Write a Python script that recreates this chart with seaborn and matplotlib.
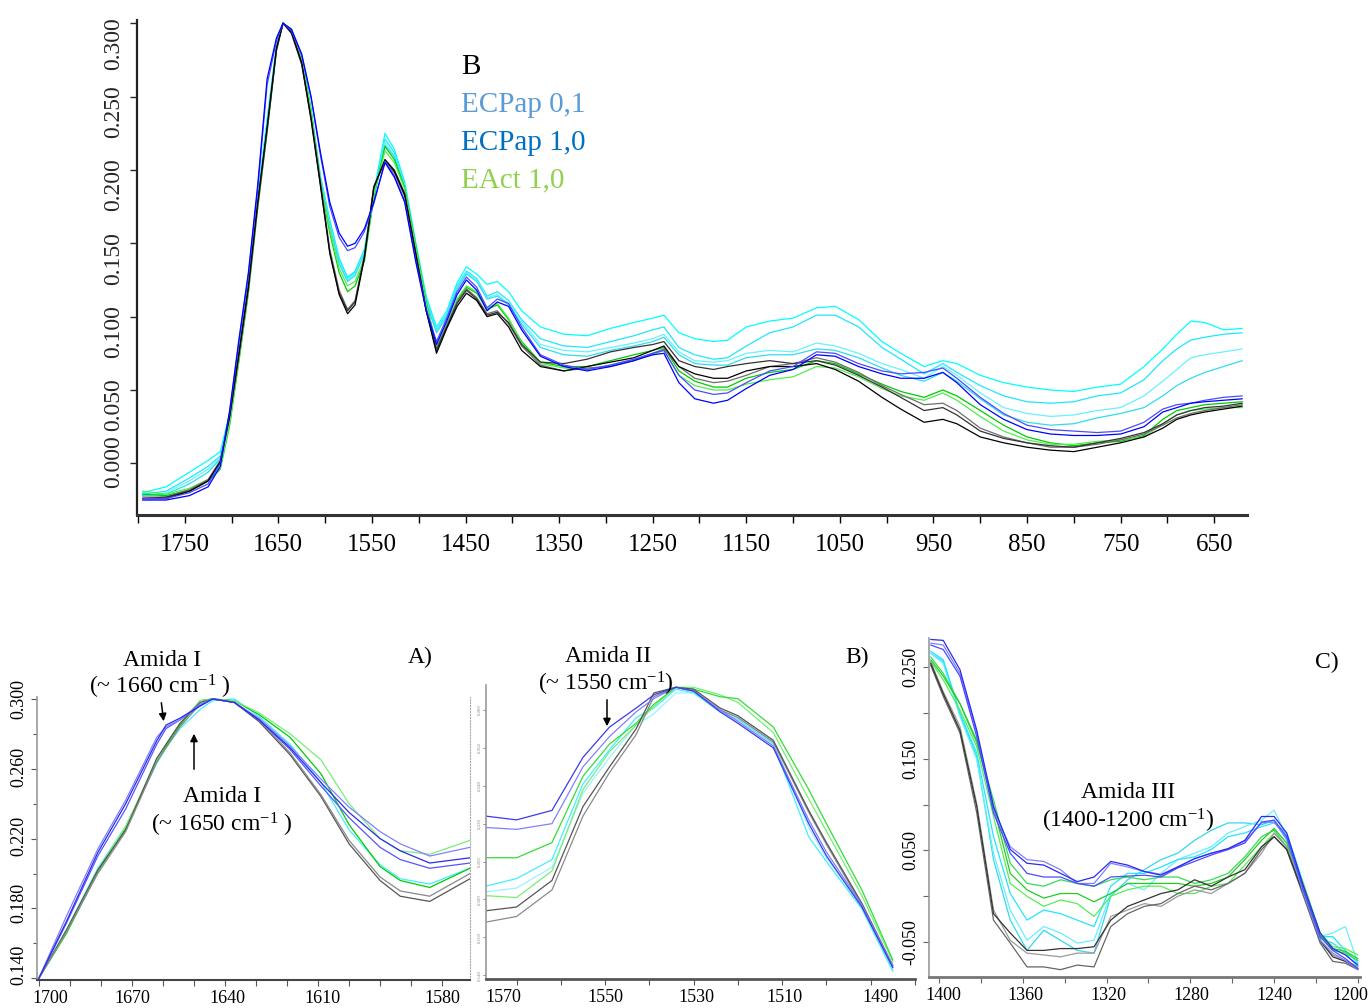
import matplotlib
matplotlib.use("Agg")
import matplotlib.pyplot as plt
import pandas as pd
import seaborn as sns
from matplotlib.ticker import MultipleLocator
from matplotlib.patches import FancyArrowPatch
from matplotlib.transforms import ScaledTranslation

sns.set_style("ticks")
plt.rcParams['font.family'] = ['Liberation Serif', 'DejaVu Serif']
plt.rcParams['mathtext.default'] = 'regular'

# ---------------- data: main spectrum (panel B top) ----------------
wn_top = [1795, 1770, 1745, 1725, 1712, 1702, 1692, 1682, 1672, 1662, 1652, 1645, 1636, 1625, 1615,
          1605, 1595, 1585, 1576, 1568, 1558, 1548, 1536, 1526, 1515, 1503, 1492, 1481, 1470, 1459,
          1449, 1438, 1427, 1416, 1404, 1390, 1370, 1345, 1320, 1295, 1270, 1250, 1238, 1222, 1205,
          1185, 1170, 1150, 1125, 1100, 1075, 1055, 1030, 1005, 985, 960, 940, 925, 900, 875,
          850, 825, 800, 775, 750, 725, 705, 690, 675, 660, 640, 620]

top_cyan_1 = [-0.020, -0.016, -0.006, 0.002, 0.008, 0.034, 0.078, 0.124, 0.182, 0.235, 0.285, 0.300, 0.296, 0.277, 0.242,
              0.196, 0.166, 0.140, 0.126, 0.130, 0.145, 0.185, 0.225, 0.214, 0.192, 0.150, 0.114, 0.093, 0.104, 0.123,
              0.134, 0.129, 0.122, 0.124, 0.117,
              0.104, 0.093, 0.088, 0.087, 0.092, 0.096, 0.099, 0.101, 0.089, 0.085, 0.083, 0.084, 0.093, 0.097, 0.099,
              0.106, 0.107, 0.098, 0.083, 0.075, 0.066, 0.070, 0.068, 0.060, 0.055, 0.052, 0.050, 0.049, 0.052, 0.054,
              0.066, 0.078, 0.088, 0.097, 0.096, 0.091, 0.092]
top_cyan_2 = [-0.021, -0.019, -0.010, -0.002, 0.005, 0.033, 0.077, 0.122, 0.180, 0.232, 0.284, 0.300, 0.295, 0.276, 0.240,
              0.195, 0.165, 0.139, 0.127, 0.131, 0.146, 0.183, 0.221, 0.212, 0.190, 0.148, 0.112, 0.091, 0.102, 0.121,
              0.131, 0.126, 0.114, 0.117, 0.111,
              0.098, 0.085, 0.080, 0.079, 0.083, 0.087, 0.091, 0.093, 0.079, 0.074, 0.071, 0.072, 0.080, 0.089, 0.093,
              0.101, 0.101, 0.093, 0.079, 0.071, 0.061, 0.068, 0.062, 0.053, 0.046, 0.042, 0.041, 0.042, 0.046, 0.048,
              0.057, 0.070, 0.078, 0.084, 0.086, 0.088, 0.089]
top_cyan_3 = [-0.022, -0.020, -0.012, -0.004, 0.004, 0.032, 0.076, 0.121, 0.180, 0.231, 0.283, 0.300, 0.295, 0.276, 0.240,
              0.194, 0.163, 0.137, 0.125, 0.129, 0.144, 0.181, 0.219, 0.210, 0.189, 0.147, 0.111, 0.090, 0.101, 0.120,
              0.130, 0.125, 0.113, 0.115, 0.109,
              0.097, 0.081, 0.077, 0.076, 0.079, 0.082, 0.085, 0.088, 0.076, 0.070, 0.069, 0.070, 0.075, 0.077, 0.076,
              0.082, 0.080, 0.075, 0.068, 0.064, 0.058, 0.066, 0.060, 0.048, 0.038, 0.034, 0.032, 0.033, 0.036, 0.038,
              0.046, 0.056, 0.064, 0.072, 0.074, 0.076, 0.078]
top_cyan_4 = [-0.022, -0.021, -0.014, -0.006, 0.003, 0.032, 0.075, 0.120, 0.179, 0.230, 0.283, 0.300, 0.295, 0.275, 0.239,
              0.193, 0.162, 0.136, 0.124, 0.128, 0.143, 0.180, 0.217, 0.209, 0.188, 0.146, 0.110, 0.089, 0.100, 0.119,
              0.129, 0.124, 0.112, 0.114, 0.108,
              0.095, 0.079, 0.074, 0.073, 0.077, 0.080, 0.083, 0.086, 0.074, 0.068, 0.067, 0.067, 0.072, 0.074, 0.074,
              0.078, 0.077, 0.072, 0.065, 0.060, 0.056, 0.062, 0.056, 0.044, 0.033, 0.028, 0.026, 0.027, 0.031, 0.034,
              0.038, 0.046, 0.053, 0.058, 0.062, 0.066, 0.070]
top_green_1 = [-0.021, -0.022, -0.018, -0.012, -0.004, 0.026, 0.070, 0.116, 0.174, 0.226, 0.282, 0.300, 0.295, 0.275, 0.240,
               0.191, 0.157, 0.130, 0.117, 0.121, 0.138, 0.182, 0.216, 0.207, 0.188, 0.148, 0.110, 0.079, 0.094, 0.111,
               0.120, 0.116, 0.105, 0.108, 0.098,
               0.083, 0.069, 0.066, 0.066, 0.070, 0.074, 0.077, 0.079, 0.063, 0.056, 0.052, 0.052, 0.058, 0.062, 0.064,
               0.070, 0.068, 0.061, 0.054, 0.049, 0.045, 0.050, 0.046, 0.036, 0.026, 0.018, 0.014, 0.012, 0.014, 0.015,
               0.019, 0.030, 0.036, 0.038, 0.040, 0.041, 0.042]
top_green_2 = [-0.019, -0.021, -0.017, -0.011, -0.003, 0.027, 0.071, 0.117, 0.175, 0.227, 0.282, 0.300, 0.295, 0.276, 0.241,
               0.192, 0.159, 0.133, 0.121, 0.124, 0.140, 0.183, 0.213, 0.205, 0.187, 0.147, 0.109, 0.080, 0.095, 0.112,
               0.121, 0.117, 0.106, 0.109, 0.099,
               0.082, 0.068, 0.065, 0.064, 0.067, 0.071, 0.074, 0.077, 0.060, 0.053, 0.050, 0.050, 0.054, 0.057, 0.059,
               0.066, 0.065, 0.059, 0.051, 0.046, 0.043, 0.048, 0.043, 0.032, 0.022, 0.016, 0.013, 0.013, 0.015, 0.016,
               0.018, 0.027, 0.033, 0.036, 0.037, 0.038, 0.038]
top_black_1 = [-0.024, -0.024, -0.019, -0.012, 0.001, 0.032, 0.075, 0.120, 0.178, 0.229, 0.283, 0.300, 0.294, 0.273, 0.235,
               0.190, 0.143, 0.115, 0.102, 0.108, 0.140, 0.188, 0.207, 0.199, 0.183, 0.142, 0.104, 0.075, 0.092, 0.107,
               0.116, 0.111, 0.100, 0.102, 0.093,
               0.077, 0.066, 0.063, 0.066, 0.069, 0.072, 0.077, 0.080, 0.066, 0.061, 0.058, 0.058, 0.063, 0.066, 0.066,
               0.068, 0.064, 0.056, 0.045, 0.037, 0.028, 0.030, 0.027, 0.018, 0.014, 0.011, 0.009, 0.008, 0.011, 0.014,
               0.018, 0.024, 0.030, 0.033, 0.035, 0.037, 0.039]
top_black_2 = [-0.023, -0.023, -0.018, -0.011, 0.002, 0.031, 0.073, 0.118, 0.175, 0.226, 0.281, 0.300, 0.294, 0.272, 0.236,
               0.192, 0.146, 0.118, 0.105, 0.111, 0.142, 0.189, 0.205, 0.198, 0.182, 0.141, 0.104, 0.078, 0.094, 0.110,
               0.119, 0.113, 0.102, 0.104, 0.095,
               0.080, 0.067, 0.063, 0.065, 0.066, 0.070, 0.075, 0.078, 0.066, 0.058, 0.055, 0.056, 0.060, 0.066, 0.068,
               0.072, 0.069, 0.062, 0.053, 0.047, 0.040, 0.041, 0.036, 0.024, 0.018, 0.014, 0.011, 0.011, 0.013, 0.016,
               0.020, 0.026, 0.031, 0.034, 0.036, 0.038, 0.040]
top_black_3 = [-0.024, -0.023, -0.019, -0.012, 0.001, 0.033, 0.076, 0.121, 0.177, 0.228, 0.282, 0.300, 0.293, 0.272, 0.234,
               0.189, 0.144, 0.116, 0.104, 0.110, 0.141, 0.188, 0.207, 0.200, 0.184, 0.143, 0.105, 0.077, 0.093, 0.109,
               0.118, 0.112, 0.101, 0.103, 0.096,
               0.081, 0.069, 0.068, 0.071, 0.076, 0.079, 0.081, 0.083, 0.070, 0.066, 0.064, 0.066, 0.068, 0.070, 0.068,
               0.070, 0.067, 0.060, 0.052, 0.045, 0.036, 0.038, 0.033, 0.022, 0.017, 0.014, 0.012, 0.011, 0.014, 0.017,
               0.021, 0.027, 0.033, 0.036, 0.038, 0.039, 0.041]
top_blue_1 = [-0.025, -0.025, -0.022, -0.016, -0.002, 0.036, 0.085, 0.130, 0.190, 0.262, 0.290, 0.300, 0.296, 0.279, 0.250,
              0.212, 0.178, 0.157, 0.148, 0.150, 0.160, 0.178, 0.205, 0.195, 0.178, 0.137, 0.104, 0.081, 0.097, 0.115,
              0.125, 0.118, 0.104, 0.110, 0.107,
              0.091, 0.073, 0.066, 0.063, 0.066, 0.070, 0.074, 0.075, 0.055, 0.044, 0.041, 0.043, 0.051, 0.060, 0.064,
              0.074, 0.073, 0.066, 0.061, 0.058, 0.058, 0.062, 0.055, 0.040, 0.030, 0.023, 0.020, 0.019, 0.019, 0.020,
              0.025, 0.035, 0.038, 0.041, 0.042, 0.043, 0.044]
top_blue_2 = [-0.024, -0.024, -0.020, -0.014, 0.000, 0.035, 0.083, 0.128, 0.187, 0.258, 0.288, 0.300, 0.295, 0.278, 0.249,
              0.210, 0.175, 0.154, 0.145, 0.147, 0.158, 0.177, 0.206, 0.196, 0.179, 0.138, 0.105, 0.083, 0.099, 0.117,
              0.127, 0.120, 0.106, 0.112, 0.109,
              0.093, 0.074, 0.067, 0.064, 0.067, 0.071, 0.075, 0.077, 0.060, 0.050, 0.047, 0.048, 0.055, 0.063, 0.066,
              0.076, 0.075, 0.068, 0.063, 0.061, 0.062, 0.065, 0.058, 0.045, 0.034, 0.026, 0.023, 0.022, 0.021, 0.022,
              0.028, 0.037, 0.040, 0.041, 0.043, 0.045, 0.046]

# ---------------- data: zoom A (Amida I) ----------------
wn_a = [1700, 1691, 1681, 1672, 1662, 1659, 1654.5, 1648, 1644, 1637, 1629, 1619, 1609, 1600, 1590, 1583.5, 1574, 1561]
a_cyan_1 = [0.140, 0.168, 0.203, 0.227, 0.263, 0.272, 0.283, 0.294, 0.299, 0.300, 0.290, 0.274, 0.252, 0.225, 0.205, 0.197, 0.194, 0.203]
a_green_1 = [0.140, 0.166, 0.201, 0.226, 0.264, 0.273, 0.285, 0.299, 0.300, 0.299, 0.291, 0.278, 0.257, 0.228, 0.204, 0.196, 0.192, 0.203]
a_green_2 = [0.140, 0.167, 0.202, 0.227, 0.265, 0.274, 0.286, 0.299, 0.300, 0.299, 0.292, 0.280, 0.265, 0.240, 0.220, 0.213, 0.211, 0.219]
a_black_1 = [0.140, 0.168, 0.202, 0.225, 0.266, 0.274, 0.286, 0.298, 0.300, 0.298, 0.287, 0.268, 0.244, 0.217, 0.196, 0.187, 0.184, 0.197]
a_black_2 = [0.140, 0.167, 0.200, 0.224, 0.264, 0.272, 0.284, 0.297, 0.300, 0.298, 0.288, 0.269, 0.245, 0.219, 0.198, 0.190, 0.187, 0.200]
a_blue_1 = [0.140, 0.173, 0.212, 0.240, 0.276, 0.285, 0.289, 0.296, 0.300, 0.298, 0.288, 0.272, 0.252, 0.235, 0.220, 0.213, 0.206, 0.209]
a_blue_2 = [0.140, 0.176, 0.214, 0.242, 0.278, 0.284, 0.288, 0.297, 0.300, 0.298, 0.289, 0.273, 0.254, 0.238, 0.224, 0.217, 0.210, 0.215]
a_blue_3 = [0.140, 0.172, 0.210, 0.237, 0.274, 0.283, 0.288, 0.296, 0.300, 0.298, 0.288, 0.271, 0.250, 0.232, 0.215, 0.208, 0.203, 0.206]

# ---------------- data: zoom B (Amida II) ----------------
wn_b = [1577, 1570, 1562, 1555, 1549, 1543, 1539, 1534, 1530, 1524, 1520, 1512, 1504, 1500, 1492, 1485]
b_cyan_1 = [0.187, 0.191, 0.201, 0.241, 0.259, 0.276, 0.281, 0.291, 0.289, 0.279, 0.275, 0.262, 0.213, 0.200, 0.175, 0.142]
b_cyan_2 = [0.184, 0.186, 0.197, 0.236, 0.255, 0.272, 0.278, 0.289, 0.289, 0.280, 0.276, 0.263, 0.218, 0.202, 0.176, 0.143]
b_green_1 = [0.202, 0.202, 0.210, 0.245, 0.262, 0.273, 0.283, 0.292, 0.291, 0.287, 0.286, 0.271, 0.238, 0.220, 0.185, 0.148]
b_green_2 = [0.182, 0.181, 0.195, 0.238, 0.258, 0.272, 0.282, 0.292, 0.292, 0.288, 0.284, 0.268, 0.233, 0.216, 0.182, 0.147]
b_black_1 = [0.174, 0.176, 0.190, 0.229, 0.250, 0.270, 0.289, 0.292, 0.291, 0.281, 0.277, 0.264, 0.227, 0.210, 0.178, 0.145]
b_black_2 = [0.168, 0.171, 0.185, 0.224, 0.247, 0.267, 0.287, 0.292, 0.290, 0.280, 0.276, 0.263, 0.226, 0.209, 0.177, 0.144]
b_blue_1 = [0.224, 0.222, 0.227, 0.255, 0.271, 0.281, 0.288, 0.292, 0.290, 0.279, 0.273, 0.260, 0.220, 0.203, 0.176, 0.144]
b_blue_2 = [0.218, 0.217, 0.220, 0.250, 0.266, 0.279, 0.286, 0.292, 0.290, 0.280, 0.274, 0.261, 0.222, 0.205, 0.177, 0.145]

# ---------------- data: zoom C (Amida III) ----------------
wn_c = [1404, 1398, 1390, 1382, 1374, 1366, 1358, 1350, 1342, 1334, 1326, 1318, 1310, 1302,
        1294, 1286, 1278, 1270, 1262, 1254, 1246, 1240, 1234, 1226, 1218, 1212, 1206, 1200]
c_cyan_1 = [0.267, 0.258, 0.200, 0.156, 0.065, 0.003, -0.026, -0.015, -0.019, -0.026, -0.033, 0.011, 0.025, 0.025,
            0.032, 0.040, 0.043, 0.051, 0.065, 0.069, 0.076, 0.080, 0.069, 0.014, -0.044, -0.044, -0.059, -0.073]
c_cyan_2 = [0.265, 0.254, 0.196, 0.149, 0.047, -0.015, -0.048, -0.033, -0.040, -0.051, -0.048, 0.003, 0.014, 0.007,
            0.025, 0.040, 0.047, 0.054, 0.069, 0.076, 0.083, 0.094, 0.065, 0.011, -0.044, -0.040, -0.033, -0.073]
c_cyan_3 = [0.265, 0.256, 0.198, 0.152, 0.040, -0.026, -0.059, -0.037, -0.048, -0.059, -0.062, 0.000, 0.018, 0.029,
            0.040, 0.047, 0.061, 0.072, 0.080, 0.080, 0.078, 0.083, 0.061, 0.007, -0.046, -0.051, -0.062, -0.077]
c_green_1 = [0.258, 0.240, 0.210, 0.170, 0.098, 0.025, 0.007, -0.002, 0.003, 0.003, -0.006, 0.003, 0.014, 0.014,
             0.014, 0.014, 0.011, 0.014, 0.021, 0.040, 0.061, 0.074, 0.058, 0.011, -0.042, -0.057, -0.060, -0.068]
c_green_2 = [0.256, 0.236, 0.203, 0.163, 0.087, 0.014, 0.000, -0.011, -0.004, -0.008, -0.022, 0.000, 0.007, 0.011,
             0.011, 0.003, 0.003, 0.011, 0.014, 0.034, 0.054, 0.069, 0.054, 0.014, -0.040, -0.055, -0.057, -0.064]
c_green_3 = [0.261, 0.243, 0.210, 0.167, 0.105, 0.036, 0.014, 0.011, 0.018, 0.014, 0.011, 0.018, 0.021, 0.018,
             0.021, 0.021, 0.014, 0.018, 0.025, 0.043, 0.065, 0.072, 0.054, 0.007, -0.044, -0.059, -0.062, -0.070]
c_black_1 = [0.254, 0.221, 0.181, 0.098, -0.019, -0.040, -0.059, -0.059, -0.057, -0.057, -0.055, -0.026, -0.011, -0.004,
             0.003, 0.007, 0.018, 0.011, 0.021, 0.029, 0.054, 0.065, 0.051, 0.003, -0.048, -0.066, -0.071, -0.079]
c_black_2 = [0.252, 0.218, 0.178, 0.091, -0.026, -0.051, -0.077, -0.077, -0.080, -0.075, -0.077, -0.033, -0.019, -0.011,
             -0.008, 0.003, 0.011, 0.007, 0.014, 0.025, 0.051, 0.065, 0.051, 0.000, -0.051, -0.071, -0.073, -0.080]
c_black_3 = [0.256, 0.223, 0.185, 0.101, -0.015, -0.048, -0.062, -0.064, -0.066, -0.062, -0.062, -0.022, -0.015, -0.008,
             -0.011, 0.000, 0.007, 0.003, 0.014, 0.025, 0.047, 0.069, 0.054, 0.003, -0.050, -0.064, -0.070, -0.077]
c_blue_1 = [0.280, 0.279, 0.247, 0.181, 0.098, 0.051, 0.036, 0.034, 0.025, 0.016, 0.021, 0.038, 0.034, 0.027,
            0.023, 0.032, 0.041, 0.047, 0.052, 0.061, 0.087, 0.087, 0.069, 0.011, -0.040, -0.057, -0.064, -0.075]
c_blue_2 = [0.274, 0.269, 0.240, 0.174, 0.091, 0.047, 0.025, 0.021, 0.021, 0.014, 0.011, 0.021, 0.022, 0.023,
            0.021, 0.031, 0.038, 0.045, 0.051, 0.058, 0.081, 0.083, 0.065, 0.007, -0.044, -0.059, -0.068, -0.079]
c_blue_3 = [0.276, 0.274, 0.243, 0.178, 0.094, 0.054, 0.040, 0.038, 0.029, 0.014, 0.014, 0.036, 0.032, 0.027,
            0.024, 0.032, 0.041, 0.047, 0.051, 0.060, 0.080, 0.081, 0.063, 0.003, -0.048, -0.062, -0.070, -0.080]

legend_labels = ["B", "ECPap 0,1", "ECPap 1,0", "EAct 1,0"]
legend_colors = ["#000000", "#5B9BD5", "#0070C0", "#92D050"]

top_xticks = [1750, 1650, 1550, 1450, 1350, 1250, 1150, 1050, 950, 850, 750, 650]
top_yticks = [0.0, 0.05, 0.10, 0.15, 0.20, 0.25, 0.30]
a_xticks = [1700, 1670, 1640, 1610, 1580]
a_yticks = [0.14, 0.18, 0.22, 0.26, 0.30]
b_xticks = [1570, 1550, 1530, 1510, 1490]
b_yticks = [0.14, 0.16, 0.18, 0.20, 0.22, 0.24, 0.26, 0.28]
c_xticks = [1400, 1360, 1320, 1280, 1240, 1200]
c_yticks = [-0.05, 0.05, 0.15, 0.25]

line_colors = {
    "cyan 1": "#00ffff", "cyan 2": "#1fe6ff", "cyan 3": "#66f2ff", "cyan 4": "#30dcee",
    "green 1": "#00cc00", "green 2": "#4fee4f", "green 3": "#33dd55",
    "black 1": "#000000", "black 2": "#6e6e6e", "black 3": "#333333",
    "blue 1": "#0000ff", "blue 2": "#4b4bff", "blue 3": "#7777ff",
}


def long_frame(wn, series):
    rows = []
    for name, vals in series.items():
        for w, v in zip(wn, vals):
            rows.append({"wn": w, "abs": v, "line": name})
    return pd.DataFrame(rows)


W, H = 1369, 1008


def fx(px):
    return px / W


def fy(py):
    return 1 - py / H


fig = plt.figure(figsize=(W / 100, H / 100), dpi=100)
fig.patch.set_facecolor("white")


def shift(labels, offsets):
    # offsets in pixels: (dx to the right, dy downward)
    for lbl, (dx, dy) in zip(labels, offsets):
        lbl.set_transform(lbl.get_transform() + ScaledTranslation(dx / 100, -dy / 100, fig.dpi_scale_trans))


def fmt3(vals):
    return [f"{v:.3f}" for v in vals]


# ---------------- top panel ----------------
ax = fig.add_axes([fx(137), fy(515), (1247 - 137) / W, (515 - 20) / H])
top_series = {
    "cyan 1": top_cyan_1, "cyan 2": top_cyan_2, "cyan 3": top_cyan_3, "cyan 4": top_cyan_4,
    "green 1": top_green_1, "green 2": top_green_2,
    "black 2": top_black_2, "black 3": top_black_3, "black 1": top_black_1,
    "blue 2": top_blue_2, "blue 1": top_blue_1,
}
sns.lineplot(data=long_frame(wn_top, top_series), x="wn", y="abs", hue="line", palette=line_colors,
             hue_order=list(top_series.keys()), estimator=None, sort=False,
             legend=False, linewidth=0.9, ax=ax)
ax.set_xlim(1801, 615)
ax.set_ylim(-0.0352, 0.3022)
ax.set_xlabel("")
ax.set_ylabel("")
for s in ["top", "right"]:
    ax.spines[s].set_visible(False)
ax.spines["left"].set_linewidth(1.6)
ax.spines["left"].set_color("#222222")
ax.spines["bottom"].set_linewidth(2.2)
ax.spines["bottom"].set_color("#333333")
ax.set_xticks(top_xticks, [str(t) for t in top_xticks])
ax.xaxis.set_minor_locator(MultipleLocator(50))
ax.set_yticks(top_yticks, fmt3(top_yticks), rotation=90, va="center")
ax.tick_params(axis="x", which="both", direction="out", length=6, width=1, labelsize=18, pad=8, colors="black")
ax.tick_params(axis="y", which="both", direction="out", length=5, width=1, labelsize=17, pad=4)
shift(ax.get_yticklabels(), [(0, -2), (0, 15), (0, 15), (0, 15), (0, 15), (0, 15), (0, 20)])

for lab, col, py in zip(legend_labels, legend_colors, [67, 105, 143, 180]):
    fig.text(fx(461), fy(py), lab, color=col, fontsize=21, ha="left", va="center")

# ---------------- panel A ----------------
axa = fig.add_axes([fx(37), fy(980), 433 / W, 283 / H])
a_series = {"cyan 1": a_cyan_1, "green 1": a_green_1, "green 2": a_green_2,
            "black 1": a_black_1, "black 2": a_black_2,
            "blue 3": a_blue_3, "blue 2": a_blue_2, "blue 1": a_blue_1}
a_colors = dict(line_colors)
a_colors.update({"black 1": "#555555", "black 2": "#888888", "green 2": "#77ee77", "cyan 1": "#44eeff",
                 "blue 1": "#2a2aee", "blue 2": "#8080ff", "blue 3": "#5555ff"})
sns.lineplot(data=long_frame(wn_a, a_series), x="wn", y="abs", hue="line", palette=a_colors,
             hue_order=list(a_series.keys()), estimator=None, sort=False, legend=False,
             linewidth=0.9, ax=axa)
axa.set_xlim(1700.6, 1561)
axa.set_ylim(0.139, 0.3011)
axa.set_xlabel("")
axa.set_ylabel("")
axa.spines["top"].set_visible(False)
axa.spines["right"].set_linestyle(":")
axa.spines["right"].set_color("#aaaaaa")
axa.spines["left"].set_color("#999999")
axa.spines["left"].set_linewidth(1.2)
axa.spines["bottom"].set_color("#444444")
axa.spines["bottom"].set_linewidth(1.5)
axa.set_xticks(a_xticks, [str(t) for t in a_xticks])
axa.xaxis.set_minor_locator(MultipleLocator(10))
axa.set_yticks(a_yticks, fmt3(a_yticks), rotation=90, va="center")
axa.yaxis.set_minor_locator(MultipleLocator(0.02))
axa.tick_params(axis="both", which="both", direction="out", length=4, width=0.8, colors="#555555",
                labelcolor="black", labelsize=13, pad=3)
axa.tick_params(axis="y", which="minor", length=3)
shift(axa.get_xticklabels(), [(11, 0), (0, 0), (2, 0), (4, 0), (31, 0)])
shift(axa.get_yticklabels(), [(0, -13), (0, -5), (0, -3), (0, -2), (0, 0)])

# ---------------- panel B ----------------
axb = fig.add_axes([fx(486), fy(979), 429 / W, 294 / H])
b_series = {"cyan 2": b_cyan_2, "cyan 1": b_cyan_1, "green 2": b_green_2, "green 1": b_green_1,
            "black 2": b_black_2, "black 1": b_black_1, "blue 2": b_blue_2, "blue 1": b_blue_1}
b_colors = dict(line_colors)
b_colors.update({"black 1": "#555555", "black 2": "#8a8a8a", "green 1": "#33dd33", "green 2": "#77ee77",
                 "cyan 1": "#44eeff", "cyan 2": "#99f3ff", "blue 1": "#3a3aee", "blue 2": "#8080ff"})
sns.lineplot(data=long_frame(wn_b, b_series), x="wn", y="abs", hue="line", palette=b_colors,
             hue_order=list(b_series.keys()), estimator=None, sort=False, legend=False,
             linewidth=0.9, ax=axb)
axb.set_xlim(1576.9, 1480)
axb.set_ylim(0.138, 0.2932)
axb.set_xlabel("")
axb.set_ylabel("")
for s in ["top", "right"]:
    axb.spines[s].set_visible(False)
axb.spines["left"].set_color("#999999")
axb.spines["left"].set_linewidth(1.2)
axb.spines["bottom"].set_color("#555555")
axb.spines["bottom"].set_linewidth(2.0)
axb.set_xticks(b_xticks, [str(t) for t in b_xticks])
axb.xaxis.set_minor_locator(MultipleLocator(10))
axb.set_yticks(b_yticks, fmt3(b_yticks), rotation=90, va="center")
axb.tick_params(axis="x", which="both", direction="out", length=4, width=0.8, colors="#555555",
                labelcolor="black", labelsize=13, pad=3)
axb.tick_params(axis="y", direction="out", length=2, width=0.6, colors="#777777",
                labelcolor="#888888", labelsize=3.5, pad=1)
shift(axb.get_xticklabels(), [(-13, 0), (0, 0), (3, 0), (2, 0), (10, 0)])

# ---------------- panel C ----------------
axc = fig.add_axes([fx(929), fy(977), 431 / W, 339 / H])
c_series = {"cyan 3": c_cyan_3, "cyan 2": c_cyan_2, "cyan 1": c_cyan_1,
            "green 2": c_green_2, "green 3": c_green_3, "green 1": c_green_1,
            "black 3": c_black_3, "black 2": c_black_2, "black 1": c_black_1,
            "blue 3": c_blue_3, "blue 2": c_blue_2, "blue 1": c_blue_1}
c_colors = dict(line_colors)
c_colors.update({"black 1": "#333333", "black 2": "#666666", "black 3": "#9a9a9a",
                 "cyan 1": "#22e5ff", "cyan 2": "#66f0ff", "cyan 3": "#33d8ee",
                 "green 1": "#22cc22", "green 2": "#55ee55", "green 3": "#33dd55",
                 "blue 1": "#2a2aee", "blue 2": "#4b4bff", "blue 3": "#8080ff"})
sns.lineplot(data=long_frame(wn_c, c_series), x="wn", y="abs", hue="line", palette=c_colors,
             hue_order=list(c_series.keys()), estimator=None, sort=False, legend=False,
             linewidth=0.9, ax=axc)
axc.set_xlim(1404.8, 1199)
axc.set_ylim(-0.088, 0.2816)
axc.set_xlabel("")
axc.set_ylabel("")
for s in ["top", "right"]:
    axc.spines[s].set_visible(False)
axc.spines["left"].set_color("#999999")
axc.spines["left"].set_linewidth(1.2)
axc.spines["bottom"].set_color("#777777")
axc.spines["bottom"].set_linewidth(2.0)
axc.set_xticks(c_xticks, [str(t) for t in c_xticks])
axc.xaxis.set_minor_locator(MultipleLocator(20))
axc.set_yticks(c_yticks, fmt3(c_yticks), rotation=90, va="center")
axc.yaxis.set_minor_locator(MultipleLocator(0.05))
axc.tick_params(axis="both", which="both", direction="out", length=4, width=0.8, colors="#666666",
                labelcolor="black", labelsize=13, pad=3)
shift(axc.get_xticklabels(), [(4, 0), (3, 0), (2, 0), (1, 0), (0, 0), (-8, 0)])

# ---------------- annotations ----------------
ann = dict(fontsize=17, ha="center", va="center", color="black")
fig.text(fx(420), fy(657), "A)", **ann)
fig.text(fx(857), fy(657), "B)", **ann)
fig.text(fx(1327), fy(662), "C)", **ann)
fig.text(fx(162), fy(660), "Amida I", **ann)
fig.text(fx(160), fy(687), r"(~ 1660 cm$^{-1}$ )", **ann)
fig.text(fx(222), fy(797), "Amida I", **ann)
fig.text(fx(222), fy(825), r"(~ 1650 cm$^{-1}$ )", **ann)
fig.text(fx(608), fy(657), "Amida II", **ann)
fig.text(fx(606), fy(684), r"(~ 1550 cm$^{-1}$)", **ann)
fig.text(fx(1128), fy(793), "Amida III", **ann)
fig.text(fx(1128), fy(821), r"(1400-1200 cm$^{-1}$)", **ann)

for (x0, y0), (x1, y1) in [((161, 700), (164, 724)), ((194, 772), (194, 731)), ((607, 697), (607, 729))]:
    fig.add_artist(FancyArrowPatch(posA=(fx(x0), fy(y0)), posB=(fx(x1), fy(y1)),
                                   transform=fig.transFigure, arrowstyle="-|>",
                                   mutation_scale=11, color="black", lw=1.1))

fig.savefig("out.png", dpi=100, facecolor="white")
